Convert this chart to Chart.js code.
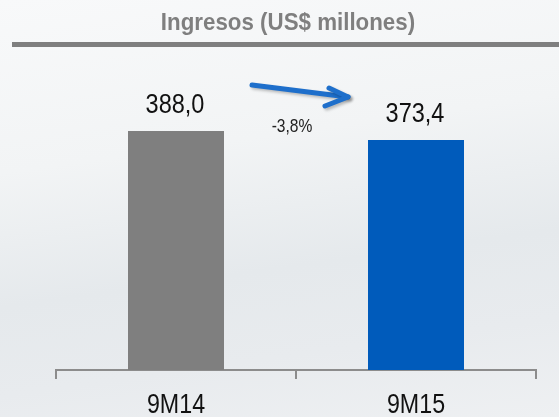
<!DOCTYPE html>
<html lang="es">
<head>
  <meta charset="UTF-8" />
  <title>Ingresos (US$ millones)</title>
  <script src="https://cdn.jsdelivr.net/npm/chart.js"></script>
  <style>
    * { box-sizing: border-box; margin: 0; padding: 0; }
    body {
      width: 559px;
      height: 417px;
      overflow: hidden;
      background: linear-gradient(172deg, #f8f9fa 0%, #f2f4f5 35%, #e5e9ec 62%, #e8ebee 80%, #eef0f2 100%);
    }
    #wrap { position: relative; width: 559px; height: 417px; }
  </style>
</head>
<body>
  <div id="wrap"><canvas id="chart" width="559" height="417"></canvas></div>

  <script>
    const title = "Ingresos (US$ millones)";
    const periods = ["9M14", "9M15"];
    const revenue = [388.0, 373.4];
    const barColors = ["#7f7f7f", "#005bbb"];
    const changeLabel = "-3,8%";

    const fmt = v => v.toFixed(1).replace(".", ",");
    const font = "'Liberation Sans', Arial, sans-serif";

    // Arial Narrow look-alike: squeeze regular text horizontally
    function narrowText(ctx, text, x, y, size, sx, weight) {
      ctx.save();
      ctx.translate(x, y);
      ctx.scale(sx, 1);
      ctx.font = (weight || "") + " " + size + "px " + font;
      ctx.fillText(text, 0, 0);
      ctx.restore();
    }

    const decor = {
      id: "decor",
      afterDatasetsDraw(chart) {
        const ctx = chart.ctx;
        ctx.save();
        ctx.textAlign = "center";
        ctx.textBaseline = "alphabetic";

        // title + underline
        ctx.fillStyle = "#7f7f7f";
        narrowText(ctx, title, 288, 30, 24, 0.93, "bold");
        ctx.fillRect(12, 42, 547, 5);

        // value labels above bars
        const bars = chart.getDatasetMeta(0).data;
        ctx.fillStyle = "#111";
        bars.forEach((b, i) => narrowText(ctx, fmt(revenue[i]), b.x - 1, b.y - 18, 28, 0.84));

        // category labels under the axis
        const xs = chart.scales.x;
        periods.forEach((p, i) => narrowText(ctx, p, xs.getPixelForTick(i), 413, 28, 0.83));

        // change arrow
        ctx.strokeStyle = "#1e6fcb";
        ctx.lineWidth = 5;
        ctx.lineCap = "round";
        ctx.lineJoin = "round";
        ctx.shadowColor = "rgba(0,0,0,0.25)";
        ctx.shadowBlur = 3;
        ctx.shadowOffsetX = 2;
        ctx.shadowOffsetY = 2;
        const x0 = 252, y0 = 85, x1 = 348, y1 = 97;
        ctx.beginPath();
        ctx.moveTo(x0, y0);
        ctx.lineTo(x1, y1);
        ctx.stroke();
        ctx.beginPath();
        ctx.moveTo(329, 88);
        ctx.lineTo(x1, y1);
        ctx.lineTo(325, 106);
        ctx.stroke();
        ctx.shadowColor = "transparent";

        ctx.fillStyle = "#222";
        narrowText(ctx, changeLabel, 292, 132, 19, 0.82);
        ctx.restore();
      }
    };

    new Chart(document.getElementById("chart"), {
      type: "bar",
      data: {
        labels: periods,
        datasets: [{
          data: revenue,
          backgroundColor: barColors,
          barPercentage: 0.4,
          categoryPercentage: 1
        }]
      },
      options: {
        responsive: false,
        animation: false,
        layout: { padding: { top: 62, left: 56, right: 23, bottom: 38 } },
        plugins: { legend: { display: false }, tooltip: { enabled: false } },
        scales: {
          y: { display: false, min: 0, max: 500 },
          x: {
            offset: true,
            border: { display: true, color: "#8c8c8c", width: 2 },
            grid: { offset: true, drawOnChartArea: false, drawTicks: true, tickLength: 9, color: "#8c8c8c", lineWidth: 2 },
            ticks: { display: false }
          }
        }
      },
      plugins: [decor]
    });
  </script>
</body>
</html>
